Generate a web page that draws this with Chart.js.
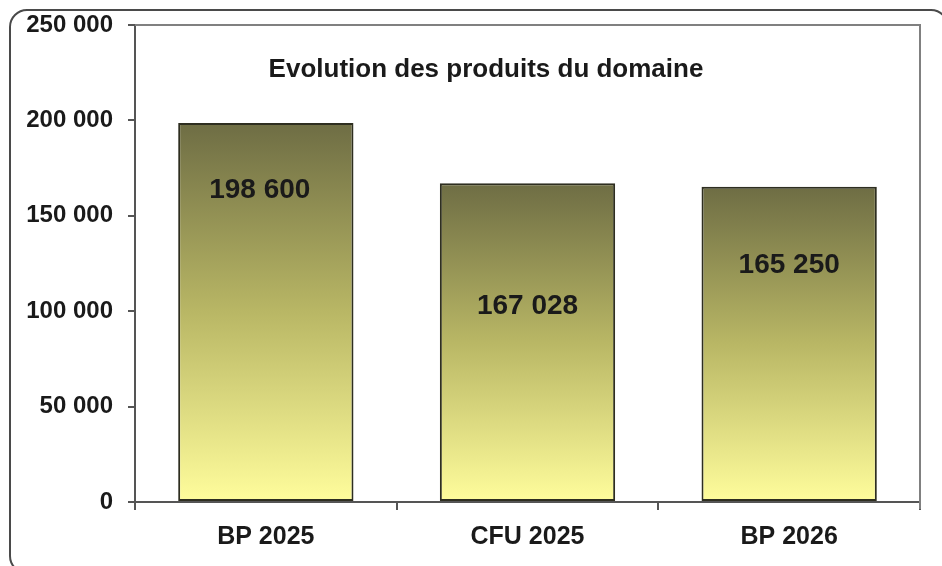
<!DOCTYPE html>
<html>
<head>
<meta charset="utf-8">
<script src="https://cdn.jsdelivr.net/npm/chart.js@4"></script>
<style>
    html, body { margin:0; padding:0; background:#fff; }
    #wrap { position:relative; width:942px; height:566px; overflow:hidden; }
    #frame { position:absolute; left:9px; top:9px; width:940px; height:565px; border:2px solid #4a4a4a; border-radius:18px; box-sizing:border-box; pointer-events:none; }
    canvas { position:absolute; left:0; top:0; }
</style>
</head>
<body>
<div id="wrap">
    <canvas id="chart" width="942" height="566"></canvas>
    <div id="frame"></div>
</div>
<script>
// === DATA ===
const categories = ['BP 2025', 'CFU 2025', 'BP 2026'];
const produits = [198600, 167028, 165250];
const yTicks = [0, 50000, 100000, 150000, 200000, 250000];
// where each value label sits inside its bar (in axis units)
const labelAt = [163500, 102700, 124200];

const chartTitle = 'Evolution des produits du domaine';
const fontFamily = '"Liberation Sans", Arial, sans-serif';

const fmt = v => String(Math.round(v)).replace(/\B(?=(\d{3})+(?!\d))/g, ' ');

// === GRADIENT PER BAR ===
function barGradient(ctx){
    const chart = ctx.chart;
    const area = chart.chartArea;
    if(!area || ctx.type !== 'data') return '#a8a75a';
    const y = chart.scales.y;
    const top = y.getPixelForValue(ctx.raw);
    const base = y.getPixelForValue(0);
    const g = chart.ctx.createLinearGradient(0, top, 0, base);
    g.addColorStop(0, '#6e6d44');
    g.addColorStop(0.5, '#b9b765');
    g.addColorStop(1, '#fffd9c');
    return g;
}

// === PLUGIN: frame lines, title, value labels ===
const decor = {
    id:'decor',
    beforeDatasetsDraw(chart){
        const {ctx, chartArea:a} = chart;
        ctx.save();
        ctx.strokeStyle = '#808080';
        ctx.lineWidth = 2;
        ctx.beginPath();
        ctx.moveTo(a.left, a.top);
        ctx.lineTo(a.right, a.top);
        ctx.lineTo(a.right, a.bottom + 7);
        ctx.stroke();
        ctx.restore();
    },
    afterDatasetsDraw(chart){
        const {ctx, scales} = chart;
        ctx.save();
        ctx.fillStyle = '#1a1a1a';
        ctx.textAlign = 'center';
        ctx.textBaseline = 'middle';
        ctx.font = `bold 26px ${fontFamily}`;
        ctx.fillText(chartTitle, 486, 70);

        ctx.font = `bold 28px ${fontFamily}`;
        const meta = chart.getDatasetMeta(0);
        meta.data.forEach((bar, i)=>{
            const shift = [-6, 0, 0][i];
            ctx.fillText(fmt(produits[i]), bar.x + shift, scales.y.getPixelForValue(labelAt[i]));
        });
        ctx.restore();
    }
};

// === CHART ===
const ctx = document.getElementById('chart').getContext('2d');
new Chart(ctx, {
    type:'bar',
    data:{
        labels:categories,
        datasets:[{
            data:produits,
            backgroundColor:barGradient,
            borderColor:'#2e2e20',
            borderWidth:2,
            borderSkipped:false,
            barPercentage:0.67,
            categoryPercentage:1
        }]
    },
    options:{
        responsive:false,
        animation:false,
        layout:{padding:{top:25, right:22, left:0, bottom:0}},
        plugins:{legend:{display:false}, tooltip:{enabled:false}},
        scales:{
            x:{
                offset:true,
                grid:{offset:true, drawOnChartArea:false, drawTicks:true, tickLength:8, color:'#555', lineWidth:2},
                border:{color:'#555', width:2},
                ticks:{color:'#1a1a1a', padding:12, font:{family:fontFamily, size:25, weight:'bold'}},
                afterFit: s => { s.height = 64; s.paddingLeft = 0; s.paddingRight = 0; }
            },
            y:{
                min:0, max:250000,
                afterBuildTicks: s => { s.ticks = yTicks.map(v=>({value:v})); },
                grid:{drawOnChartArea:false, drawTicks:true, tickLength:7, color:'#555', lineWidth:2},
                border:{color:'#555', width:2},
                ticks:{color:'#1a1a1a', padding:15, font:{family:fontFamily, size:24, weight:'bold'}, callback:v=>fmt(v)},
                afterFit: s => { s.width = 135; s.paddingTop = 0; s.paddingBottom = 0; }
            }
        }
    },
    plugins:[decor]
});
</script>
</body>
</html>
